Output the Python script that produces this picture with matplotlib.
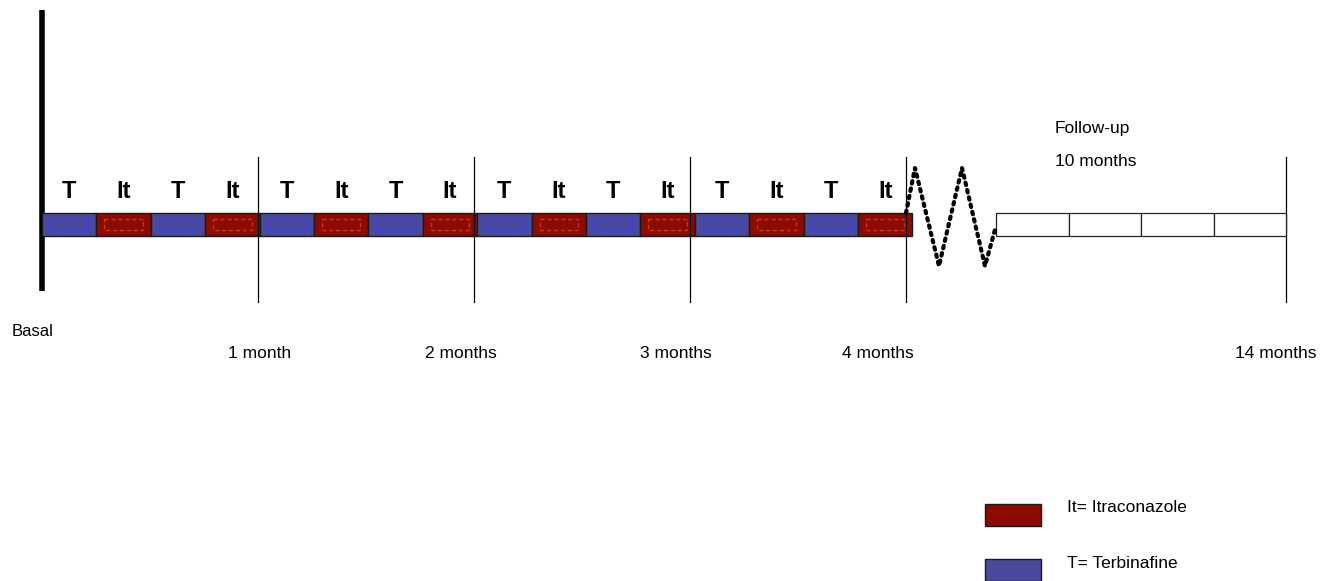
import matplotlib
matplotlib.use("Agg")
import matplotlib.pyplot as plt
from matplotlib.patches import Rectangle

plt.rcParams['font.family'] = ['Liberation Sans', 'DejaVu Sans']

# ---- data ----
segments = ['T', 'It'] * 8                      # weekly alternation, 16 weeks = 4 months
month_labels = ['Basal', '1 month', '2 months', '3 months', '4 months', '14 months']
treat_months = [1, 2, 3, 4]
followup_blocks = 4
followup_text = ['Follow-up', '10 months']
legend_items = [('It', 'It= Itraconazole'), ('T', 'T= Terbinafine')]

colors = {'T': '#4a4a9c', 'It': '#8c0a00'}
inner = {'T': '#3c3cf0', 'It': '#d24a14'}

W, H = 1333, 581
fig = plt.figure(figsize=(W / 100, H / 100), dpi=100)
ax = fig.add_axes([0, 0, 1, 1])
ax.set_xlim(0, W)
ax.set_ylim(H, 0)
ax.axis('off')

x0 = 42.0
week_w = 54.4
bar_top, bar_h = 213, 23
month_w = 4 * week_w

# thick basal line
ax.plot([x0, x0], [10, 291], color='black', lw=4, solid_capstyle='butt')

# treatment segments
for i, s in enumerate(segments):
    xs = x0 + i * week_w
    ax.add_patch(Rectangle((xs, bar_top), week_w, bar_h, facecolor=colors[s],
                           edgecolor='#1a1a1a', lw=1.0, zorder=2))
    ax.add_patch(Rectangle((xs + 8, bar_top + 6), week_w - 16, bar_h - 12,
                           facecolor='none', edgecolor=inner[s], lw=1.0,
                           ls='-' if s == 'T' else (0, (3, 2)), zorder=3, alpha=0.8))
    ax.text(xs + week_w / 2, 191, s, ha='center', va='center', fontsize=17,
            fontweight='bold', color='black')

# month divider lines
ends = []
for m in treat_months:
    xm = x0 + m * month_w - (m * 1.6)
    ends.append(xm)
    ax.plot([xm, xm], [157, 302], color='black', lw=0.9)

# follow-up box
fu_x0 = 996
fu_x1 = 1286
ax.plot([fu_x1, fu_x1], [157, 302], color='black', lw=0.9)
bw = (fu_x1 - fu_x0) / followup_blocks
for k in range(followup_blocks):
    ax.add_patch(Rectangle((fu_x0 + k * bw, bar_top), bw, bar_h, facecolor='white',
                           edgecolor='#222222', lw=0.9, zorder=2))
ax.text(1055, 129, followup_text[0], ha='left', va='center', fontsize=12.5)
ax.text(1055, 161, followup_text[1], ha='left', va='center', fontsize=12.5)

# zigzag break
zx = [906, 915, 939, 962, 985, 996]
zy = [213, 168, 266, 168, 266, 226]
ax.plot(zx, zy, color='black', lw=3, ls=(0, (0.6, 1.2)), dash_capstyle='round')

# month labels
ax.text(12, 331, month_labels[0], ha='left', va='center', fontsize=12)
label_offsets = [-30, -49, -50, -64]
for lbl, xm, off in zip(month_labels[1:5], ends, label_offsets):
    ax.text(xm + off, 353, lbl, ha='left', va='center', fontsize=12.5)
ax.text(fu_x1 - 51, 353, month_labels[5], ha='left', va='center', fontsize=12.5)

# legend
for j, (key, txt) in enumerate(legend_items):
    y = 504 + j * 55
    ax.add_patch(Rectangle((985, y), 56, 22, facecolor=colors[key],
                           edgecolor='#1a1a1a', lw=1.0))
    ax.text(1067, y + 4, txt, ha='left', va='center', fontsize=12.5)

fig.savefig('out.png', dpi=100)
